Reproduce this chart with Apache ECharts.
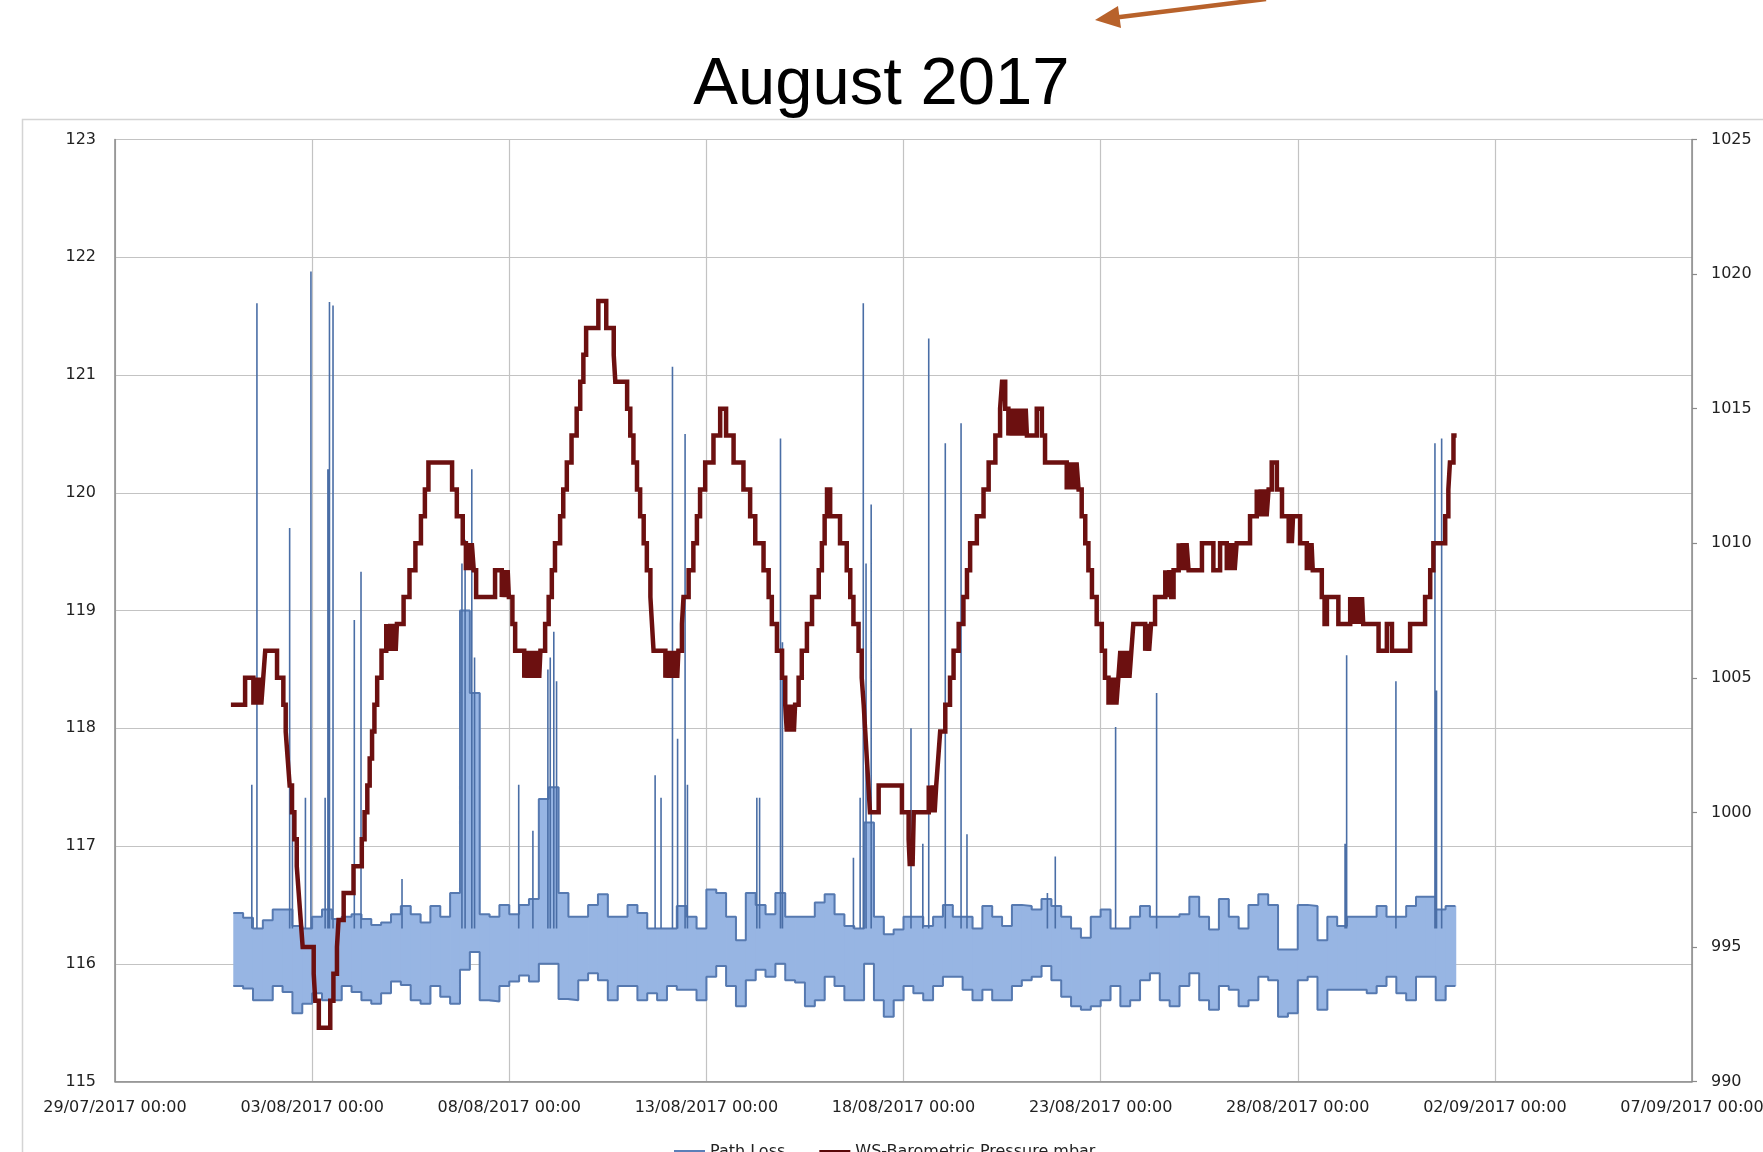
<!DOCTYPE html>
<html>
<head>
<meta charset="utf-8">
<title>August 2017</title>
<script src="https://cdn.jsdelivr.net/npm/echarts@6/dist/echarts.min.js"></script>
<style>
  html, body { margin: 0; padding: 0; background: #fff; }
  #chart { width: 1763px; height: 1152px; }
</style>
</head>
<body>
<div id="chart"></div>
<script>
// x is counted in days from 29/07/2017 00:00
var xTickLabels = ['29/07/2017 00:00', '03/08/2017 00:00', '08/08/2017 00:00', '13/08/2017 00:00',
    '18/08/2017 00:00', '23/08/2017 00:00', '28/08/2017 00:00', '02/09/2017 00:00', '07/09/2017 00:00'];

// path loss: the dense trace, top and bottom of it for every 6 hours from 01/08 00:00
var bandStart = 3;
var bandStep = 0.25;
var pathLossHigh = [
    116.43, 116.39, 116.30, 116.37, 116.46, 116.46, 116.32, 116.30, 116.40, 116.46,
    116.38, 116.40, 116.42, 116.38, 116.33, 116.35, 116.42, 116.49, 116.42, 116.35,
    116.49, 116.40, 116.60, 119.00, 118.30, 116.42, 116.40, 116.50, 116.42, 116.50,
    116.55, 117.40, 117.50, 116.60, 116.40, 116.40, 116.50, 116.59, 116.40, 116.40,
    116.50, 116.43, 116.30, 116.30, 116.30, 116.49, 116.40, 116.30, 116.63, 116.60,
    116.40, 116.20, 116.60, 116.50, 116.42, 116.60, 116.40, 116.40, 116.40, 116.52,
    116.59, 116.42, 116.32, 116.30, 117.20, 116.40, 116.25, 116.29, 116.40, 116.40,
    116.32, 116.40, 116.50, 116.40, 116.40, 116.30, 116.49, 116.40, 116.32, 116.50,
    116.49, 116.46, 116.55, 116.49, 116.40, 116.30, 116.22, 116.40, 116.46, 116.30,
    116.30, 116.40, 116.49, 116.40, 116.40, 116.40, 116.42, 116.57, 116.40, 116.29,
    116.55, 116.40, 116.30, 116.50, 116.59, 116.50, 116.12, 116.12, 116.50, 116.49,
    116.20, 116.40, 116.32, 116.40, 116.40, 116.40, 116.49, 116.40, 116.40, 116.49,
    116.57, 116.57, 116.46, 116.49
];
var pathLossLow = [
    115.81, 115.79, 115.69, 115.69, 115.81, 115.76, 115.58, 115.66, 115.75, 115.69,
    115.69, 115.81, 115.76, 115.69, 115.66, 115.75, 115.85, 115.82, 115.69, 115.66,
    115.81, 115.72, 115.66, 115.95, 116.10, 115.69, 115.68, 115.81, 115.85, 115.90,
    115.85, 116.00, 116.00, 115.70, 115.69, 115.86, 115.92, 115.86, 115.69, 115.81,
    115.81, 115.69, 115.75, 115.69, 115.81, 115.78, 115.78, 115.69, 115.89, 115.98,
    115.81, 115.64, 115.86, 115.95, 115.89, 116.00, 115.86, 115.84, 115.64, 115.69,
    115.89, 115.81, 115.69, 115.69, 116.00, 115.69, 115.55, 115.69, 115.81, 115.75,
    115.69, 115.81, 115.89, 115.89, 115.78, 115.69, 115.78, 115.69, 115.69, 115.81,
    115.86, 115.89, 115.98, 115.86, 115.72, 115.64, 115.61, 115.64, 115.69, 115.81,
    115.64, 115.69, 115.86, 115.92, 115.69, 115.64, 115.81, 115.92, 115.69, 115.61,
    115.81, 115.78, 115.64, 115.69, 115.89, 115.86, 115.55, 115.58, 115.86, 115.89,
    115.61, 115.78, 115.78, 115.78, 115.78, 115.75, 115.81, 115.89, 115.75, 115.69,
    115.89, 115.89, 115.69, 115.81
];
// single readings standing out of the trace: [day, dB]
var pathLossSpikes = [
    [3.47, 117.52], [3.60, 121.61], [4.43, 119.70], [4.50, 117.30], [4.83, 117.41],
    [4.97, 121.88], [5.33, 117.41], [5.40, 120.20], [5.44, 121.62], [5.53, 121.59],
    [6.07, 118.92], [6.24, 119.33], [7.28, 116.72], [8.80, 119.40], [8.88, 119.60],
    [9.05, 120.20], [9.12, 118.60], [10.24, 117.52], [10.60, 117.13], [10.98, 118.50],
    [11.04, 118.60], [11.13, 118.82], [11.20, 118.40], [13.70, 117.60], [13.85, 117.41],
    [14.14, 121.07], [14.27, 117.91], [14.46, 120.50], [14.52, 117.52], [16.28, 117.41],
    [16.35, 117.41], [16.88, 120.46], [16.93, 118.73], [18.73, 116.90], [18.90, 117.41],
    [18.98, 121.61], [19.05, 119.40], [19.18, 119.90], [20.19, 118.00], [20.49, 117.02],
    [20.64, 121.31], [21.06, 120.42], [21.46, 120.59], [21.61, 117.10], [23.65, 116.60],
    [23.85, 116.91], [25.38, 118.01], [26.42, 118.30], [31.20, 117.02], [31.24, 118.62],
    [32.49, 118.40], [33.48, 120.42], [33.52, 118.32], [33.65, 120.46]
];
// barometric pressure: [day the reading changes, new value in mbar]
var pressureSteps = [
    [2.94,1004],[3.30,1005],[3.51,1004],[3.56,1005],[3.61,1004],[3.66,1005],[3.71,1004],[3.76,1005],
    [3.81,1006],[4.11,1005],[4.27,1004],[4.33,1003],[4.38,1002],[4.43,1001],[4.49,1000],[4.55,999],
    [4.61,998],[4.66,997],[4.71,996],[4.76,995],[5.04,994],[5.08,993],[5.17,992],[5.46,993],
    [5.54,994],[5.63,995],[5.67,996],[5.80,997],[6.05,998],[6.26,999],[6.33,1000],[6.40,1001],
    [6.46,1002],[6.52,1003],[6.58,1004],[6.65,1005],[6.76,1006],[6.88,1007],[6.93,1006],[6.98,1007],
    [7.03,1006],[7.08,1007],[7.12,1006],[7.15,1007],[7.32,1008],[7.47,1009],[7.62,1010],[7.76,1011],
    [7.86,1012],[7.95,1013],[8.55,1012],[8.67,1011],[8.82,1010],[8.90,1009],[8.95,1010],[9.00,1009],
    [9.05,1010],[9.10,1009],[9.16,1008],[9.64,1009],[9.81,1008],[9.86,1009],[9.91,1008],[9.96,1009],
    [9.99,1008],[10.08,1007],[10.15,1006],[10.38,1005],[10.43,1006],[10.48,1005],[10.53,1006],[10.58,1005],
    [10.63,1006],[10.68,1005],[10.73,1006],[10.76,1005],[10.79,1006],[10.91,1007],[11.00,1008],[11.08,1009],
    [11.16,1010],[11.29,1011],[11.37,1012],[11.46,1013],[11.58,1014],[11.71,1015],[11.80,1016],[11.88,1017],
    [11.95,1018],[12.26,1019],[12.46,1018],[12.65,1017],[12.69,1016],[12.99,1015],[13.07,1014],[13.15,1013],
    [13.24,1012],[13.32,1011],[13.41,1010],[13.49,1009],[13.58,1008],[13.62,1007],[13.66,1006],[13.96,1005],
    [14.01,1006],[14.06,1005],[14.11,1006],[14.16,1005],[14.21,1006],[14.26,1005],[14.29,1006],[14.38,1007],
    [14.42,1008],[14.55,1009],[14.67,1010],[14.76,1011],[14.84,1012],[14.97,1013],[15.18,1014],[15.35,1015],
    [15.50,1014],[15.69,1013],[15.94,1012],[16.11,1011],[16.24,1010],[16.45,1009],[16.58,1008],[16.66,1007],
    [16.79,1006],[16.92,1005],[17.00,1004],[17.04,1003],[17.09,1004],[17.14,1003],[17.19,1004],[17.22,1003],
    [17.25,1004],[17.34,1005],[17.42,1006],[17.55,1007],[17.68,1008],[17.85,1009],[17.93,1010],[18.00,1011],
    [18.06,1012],[18.14,1011],[18.39,1010],[18.56,1009],[18.65,1008],[18.73,1007],[18.86,1006],[18.94,1005],
    [18.99,1004],[19.03,1003],[19.07,1002],[19.11,1001],[19.15,1000],[19.37,1001],[19.96,1000],[20.13,999],
    [20.16,998],[20.20,999],[20.23,998],[20.26,1000],[20.64,1001],[20.69,1000],[20.74,1001],[20.79,1000],
    [20.83,1001],[20.88,1002],[20.93,1003],[21.06,1004],[21.18,1005],[21.27,1006],[21.40,1007],[21.52,1008],
    [21.61,1009],[21.69,1010],[21.86,1011],[22.03,1012],[22.16,1013],[22.33,1014],[22.45,1015],[22.50,1016],
    [22.58,1015],[22.66,1014],[22.71,1015],[22.76,1014],[22.81,1015],[22.86,1014],[22.91,1015],[22.96,1014],
    [23.01,1015],[23.06,1014],[23.10,1015],[23.13,1014],[23.38,1015],[23.51,1014],[23.59,1013],[24.14,1012],
    [24.19,1013],[24.24,1012],[24.29,1013],[24.34,1012],[24.39,1013],[24.44,1012],[24.52,1011],[24.61,1010],
    [24.69,1009],[24.78,1008],[24.90,1007],[25.03,1006],[25.11,1005],[25.20,1004],[25.25,1005],[25.30,1004],
    [25.35,1005],[25.40,1004],[25.45,1005],[25.50,1006],[25.53,1005],[25.58,1006],[25.63,1005],[25.68,1006],
    [25.73,1005],[25.78,1006],[25.83,1007],[26.13,1006],[26.18,1007],[26.23,1006],[26.28,1007],[26.38,1008],
    [26.64,1009],[26.69,1008],[26.74,1009],[26.79,1008],[26.85,1009],[26.98,1010],[27.03,1009],[27.08,1010],
    [27.13,1009],[27.18,1010],[27.23,1009],[27.57,1010],[27.86,1009],[28.03,1010],[28.20,1009],[28.25,1010],
    [28.30,1009],[28.35,1010],[28.40,1009],[28.45,1010],[28.79,1011],[28.96,1012],[29.01,1011],[29.06,1012],
    [29.11,1011],[29.16,1012],[29.21,1011],[29.26,1012],[29.34,1013],[29.47,1012],[29.60,1011],[29.77,1010],
    [29.81,1011],[29.85,1010],[29.88,1011],[30.06,1010],[30.23,1009],[30.27,1010],[30.31,1009],[30.35,1010],
    [30.38,1009],[30.61,1008],[30.68,1007],[30.74,1008],[31.03,1007],[31.33,1008],[31.38,1007],[31.43,1008],
    [31.48,1007],[31.53,1008],[31.58,1007],[31.63,1008],[31.66,1007],[32.05,1006],[32.26,1007],[32.39,1006],
    [32.85,1007],[33.23,1008],[33.36,1009],[33.44,1010],[33.74,1011],[33.82,1012],[33.86,1013],[33.95,1014],
    [34.03,1014]
];

var BLUE_EDGE = '#5679b0';
var BLUE_FILL = '#97b5e3';
var RED = '#6c1010';

var chart = echarts.init(document.getElementById('chart'));

// band slots [start, end, low, high]
var bandData = pathLossHigh.map(function (h, i) {
    var t = bandStart + i * bandStep;
    return [t, t + bandStep, pathLossLow[i], h];
});
var lastT = bandStart + pathLossHigh.length * bandStep;
var highEdge = pathLossHigh.map(function (h, i) { return [bandStart + i * bandStep, h]; });
highEdge.push([lastT, pathLossHigh[pathLossHigh.length - 1]]);
var lowEdge = pathLossLow.map(function (v, i) { return [bandStart + i * bandStep, v]; });
lowEdge.push([lastT, pathLossLow[pathLossLow.length - 1]]);

var spikeBase = 116.3;
var spikeData = [];
pathLossSpikes.forEach(function (s) {
    spikeData.push([s[0], spikeBase], [s[0], s[1]], [s[0], spikeBase], [s[0], '-']);
});

function renderBand(params, api) {
    var p1 = api.coord([api.value(0), api.value(3)]);
    var p2 = api.coord([api.value(1), api.value(2)]);
    return {
        type: 'rect',
        shape: { x: p1[0], y: p1[1], width: p2[0] - p1[0] + 0.8, height: p2[1] - p1[1] },
        style: { fill: BLUE_FILL }
    };
}

var axisFont = { fontFamily: 'DejaVu Sans', fontSize: 16, color: '#222' };

var option = {
    backgroundColor: '#fff',
    animation: false,
    title: {
        text: 'August 2017',
        left: 'center',
        top: 47,
        textStyle: { fontFamily: 'Liberation Sans', fontSize: 67, fontWeight: 'normal', color: '#000', lineHeight: 67 }
    },
    legend: {
        left: 669,
        top: 1139,
        itemWidth: 31,
        itemHeight: 4,
        itemGap: 34,
        icon: 'rect',
        textStyle: { fontFamily: 'DejaVu Sans', fontSize: 16, color: '#222' },
        data: [
            { name: 'Path Loss', itemStyle: { color: '#5b7fb8' } },
            { name: 'WS-Barometric Pressure mbar', itemStyle: { color: '#5a0808' } }
        ]
    },
    graphic: [
        {
            type: 'rect', z: 0, silent: true,
            shape: { x: 22.5, y: 119.5, width: 1800, height: 1100 },
            style: { fill: 'none', stroke: '#d4d4d4', lineWidth: 1.5 }
        },
        {
            type: 'line', silent: true,
            shape: { x1: 1266, y1: -1, x2: 1112, y2: 18 },
            style: { stroke: '#b8622b', lineWidth: 4.5 }
        },
        {
            type: 'polygon', silent: true,
            shape: { points: [[1095, 20], [1121, 28], [1118, 6]] },
            style: { fill: '#b8622b' }
        }
    ],
    grid: {
        left: 115, right: 71, top: 139.5, bottom: 70.5,
        containLabel: false, outerBoundsMode: 'none'
    },
    xAxis: {
        type: 'value',
        min: 0, max: 40, interval: 5,
        axisLine: { show: true, lineStyle: { color: '#8a8a8a', width: 1.5 } },
        axisTick: { show: false },
        splitLine: { show: true, lineStyle: { color: '#c3c3c3', width: 1.2 } },
        axisLabel: Object.assign({
            margin: 18, hideOverlap: false, showMinLabel: true, showMaxLabel: true,
            formatter: function (v) { return xTickLabels[Math.round(v / 5)]; }
        }, axisFont)
    },
    yAxis: [
        {
            type: 'value', position: 'left',
            min: 115, max: 123, interval: 1,
            axisLine: { show: true, lineStyle: { color: '#8a8a8a', width: 1.5 } },
            axisTick: { show: false },
            splitLine: { show: true, lineStyle: { color: '#c3c3c3', width: 1.2 } },
            axisLabel: Object.assign({ margin: 19, formatter: function (v) { return String(v); } }, axisFont)
        },
        {
            type: 'value', position: 'right',
            min: 990, max: 1025, interval: 5,
            axisLine: { show: true, lineStyle: { color: '#8a8a8a', width: 1.5 } },
            axisTick: { show: true, length: 5, lineStyle: { color: '#8a8a8a', width: 1.2 } },
            splitLine: { show: false },
            axisLabel: Object.assign({ margin: 19, formatter: function (v) { return String(v); } }, axisFont)
        }
    ],
    series: [
        {
            name: 'Path Loss',
            type: 'custom',
            xAxisIndex: 0, yAxisIndex: 0,
            renderItem: renderBand,
            encode: { x: [0, 1], y: [2, 3] },
            itemStyle: { color: '#5b7fb8' },
            data: bandData,
            clip: true,
            silent: true,
            z: 2
        },
        {
            name: 'Path Loss',
            type: 'line',
            step: 'end',
            showSymbol: false,
            data: highEdge,
            lineStyle: { color: BLUE_EDGE, width: 2 },
            itemStyle: { color: '#5b7fb8' },
            silent: true,
            z: 3
        },
        {
            name: 'Path Loss',
            type: 'line',
            step: 'end',
            showSymbol: false,
            data: lowEdge,
            lineStyle: { color: BLUE_EDGE, width: 2 },
            itemStyle: { color: '#5b7fb8' },
            silent: true,
            z: 3
        },
        {
            name: 'Path Loss',
            type: 'line',
            showSymbol: false,
            connectNulls: false,
            data: spikeData,
            lineStyle: { color: '#4a6ea6', width: 1.6 },
            itemStyle: { color: '#5b7fb8' },
            silent: true,
            z: 4
        },
        {
            name: 'WS-Barometric Pressure mbar',
            type: 'line',
            yAxisIndex: 1,
            step: 'end',
            showSymbol: false,
            data: pressureSteps,
            lineStyle: { color: RED, width: 4.5, join: 'miter' },
            itemStyle: { color: '#5a0808' },
            silent: true,
            z: 6
        }
    ]
};

chart.setOption(option);
</script>
</body>
</html>
